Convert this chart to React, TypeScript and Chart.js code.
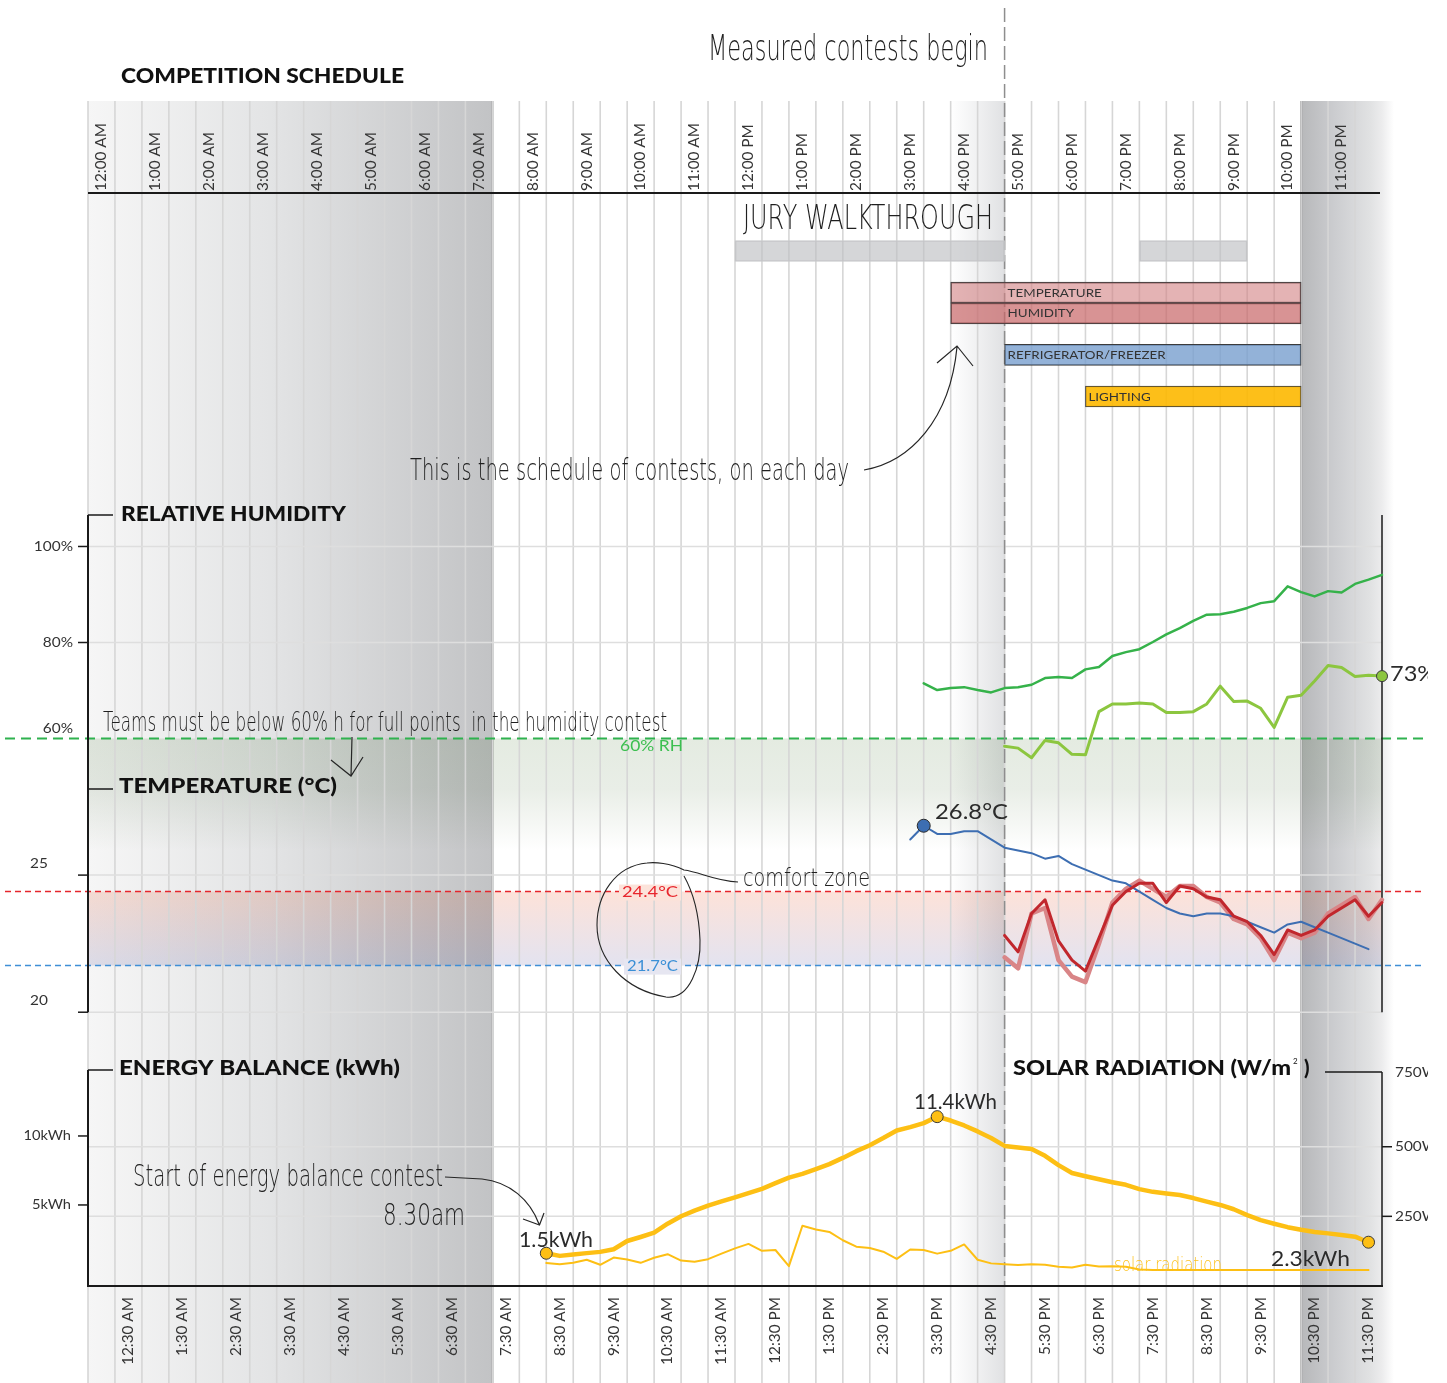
import React, { useEffect, useRef } from 'react';
import { Chart, registerables } from 'chart.js';

Chart.register(...registerables);

const CANVAS_W = 1447;
const CANVAS_H = 1383;
const CLIP_RIGHT = 1428;

// ---------------- tick labels ----------------
const hourLabels = ['12:00 AM', '1:00 AM', '2:00 AM', '3:00 AM', '4:00 AM', '5:00 AM', '6:00 AM', '7:00 AM', '8:00 AM', '9:00 AM', '10:00 AM', '11:00 AM', '12:00 PM', '1:00 PM', '2:00 PM', '3:00 PM', '4:00 PM', '5:00 PM', '6:00 PM', '7:00 PM', '8:00 PM', '9:00 PM', '10:00 PM', '11:00 PM'];
const halfHourLabels = ['12:30 AM', '1:30 AM', '2:30 AM', '3:30 AM', '4:30 AM', '5:30 AM', '6:30 AM', '7:30 AM', '8:30 AM', '9:30 AM', '10:30 AM', '11:30 AM', '12:30 PM', '1:30 PM', '2:30 PM', '3:30 PM', '4:30 PM', '5:30 PM', '6:30 PM', '7:30 PM', '8:30 PM', '9:30 PM', '10:30 PM', '11:30 PM'];
const humidityTicks = [100, 80, 60];
const temperatureTicks = [25, 20];
const energyTicks = [10, 5];
const solarTicks = [500, 250];
const solarTopLabel = '750W/m²';

// ---------------- competition schedule ----------------
const scheduleNames = ['JURY WALKTHROUGH', 'JURY WALKTHROUGH', 'TEMPERATURE', 'HUMIDITY', 'REFRIGERATOR/FREEZER', 'LIGHTING'];
const scheduleShowName = [false, false, true, true, true, true];
const scheduleRows = [0, 0, 2, 3, 5, 7];
const scheduleStart = [12, 19.5, 16, 16, 17, 18.5];
const scheduleEnd = [17, 21.5, 22.5, 22.5, 22.5, 22.5];

// ---------------- reference values (hours / units) ----------------
const nightEnd = 7.5;
const nightStart = 22.5;
const contestStart = 17;
const preContestFadeStart = 16;
const humidityLimit = 60;
const comfortHigh = 24.4;
const comfortLow = 21.7;

// ---------------- measured series, 15-minute samples ----------------
const SAMPLE_HOURS = 0.25;

const humidityOutdoorStart = 15.5;
const humidityOutdoor = [71.5, 70.1, 70.5, 70.7, 70.1, 69.6, 70.5, 70.7, 71.2, 72.6, 72.8, 72.6, 74.4, 74.9, 77.2, 78.0, 78.6, 80.1, 81.7, 83.0, 84.5, 85.8, 85.9, 86.4, 87.2, 88.2, 88.6, 91.7, 90.5, 89.6, 90.7, 90.4, 92.2, 93.1, 94.1];

const humidityIndoorStart = 17;
const humidityIndoor = [58.4, 58.0, 56.0, 59.6, 59.1, 56.7, 56.6, 65.6, 67.2, 67.2, 67.4, 67.2, 65.4, 65.4, 65.6, 67.2, 70.9, 67.7, 67.8, 66.3, 62.3, 68.6, 69.0, 72.0, 75.2, 74.8, 72.9, 73.2, 73.0];
const humidityIndoorMarkers = [28];

const tempOutdoorStart = 15.25;
const tempOutdoor = [26.3, 26.8, 26.5, 26.5, 26.6, 26.6, 26.3, 26.0, 25.9, 25.8, 25.6, 25.7, 25.4, 25.2, 25.0, 24.8, 24.7, 24.4, 24.1, 23.8, 23.6, 23.5, 23.6, 23.6, 23.5, 23.3, 23.1, 22.9, 23.2, 23.3, 23.1, 22.9, 22.7, 22.5, 22.3];
const tempOutdoorMarkers = [1];

const tempIndoorStart = 17;
const tempIndoorA = [22.8, 22.2, 23.6, 24.1, 22.6, 21.9, 21.5, 22.7, 23.9, 24.4, 24.7, 24.7, 24.0, 24.6, 24.5, 24.2, 24.1, 23.5, 23.3, 22.8, 22.1, 23.0, 22.8, 23.0, 23.5, 23.8, 24.1, 23.5, 24.0];
const tempIndoorB = [22.0, 21.6, 23.6, 23.8, 21.9, 21.3, 21.1, 22.5, 24.0, 24.5, 24.8, 24.5, 24.2, 24.6, 24.6, 24.2, 24.0, 23.4, 23.2, 22.7, 21.9, 22.9, 22.7, 22.9, 23.6, 23.9, 24.2, 23.4, 24.1];

const energyStart = 8.5;
const energyBalance = [1.5, 1.31, 1.41, 1.51, 1.6, 1.79, 2.39, 2.68, 2.99, 3.64, 4.18, 4.59, 4.95, 5.26, 5.55, 5.86, 6.17, 6.58, 6.98, 7.25, 7.6, 7.96, 8.41, 8.9, 9.33, 9.85, 10.4, 10.64, 10.93, 11.4, 11.12, 10.76, 10.33, 9.85, 9.28, 9.16, 9.06, 8.56, 7.89, 7.32, 7.08, 6.86, 6.65, 6.46, 6.15, 5.95, 5.83, 5.72, 5.5, 5.24, 5.0, 4.69, 4.26, 3.9, 3.64, 3.39, 3.2, 3.04, 2.94, 2.82, 2.7, 2.3];
const energyMarkers = [0, 29, 61];

const solarStart = 8.5;
const solarRadiation = [82, 78, 83, 94, 76, 102, 95, 83, 101, 114, 91, 87, 96, 116, 135, 151, 126, 129, 71, 216, 203, 194, 164, 141, 136, 123, 97, 131, 129, 116, 126, 149, 94, 81, 78, 75, 78, 76, 69, 66, 76, 70, 71, 69, 59, 57, 57, 57, 57, 57, 57, 57, 57, 57, 57, 57, 57, 57, 57, 57, 57, 57];

// ---------------- layout (pixels) ----------------
const PLOT_LEFT = 88;
const PLOT_RIGHT = 1382;
const SHADE_TOP = 101;
const HEADER_LINE_Y = 193;
const HUM_PANEL_TOP = 515;
const TEMP_PANEL_TOP = 789;
const ENERGY_PANEL_TOP = 1070;
const SOLAR_BRACKET_Y = 1072;
// value/pixel anchor pairs used to place each vertical scale
const HUM_ANCHORS: [number, number, number, number] = [100, 545, 60, 739];
const TEMP_ANCHORS: [number, number, number, number] = [24.4, 893.6, 21.7, 968.4];
const ENERGY_ANCHORS: [number, number, number, number] = [11.4, 1121, 1.5, 1259];
const SOLAR_ANCHORS: [number, number, number, number] = [500, 1151.4, 0, 1292];
const SCHED_ANCHORS: [number, number, number, number] = [0, 246.5, 7, 393.5];

function linearRange(v1: number, p1: number, v2: number, p2: number) {
  const k = (p2 - p1) / (v1 - v2);
  const A = p1 + k * v1;
  return { min: (A - CANVAS_H) / k, max: A / k };
}
function reversedRange(v1: number, p1: number, v2: number, p2: number) {
  const k = (p2 - p1) / (v2 - v1);
  const min = v1 - p1 / k;
  return { min, max: min + CANVAS_H / k };
}

const toPoints = (start: number, values: number[]) => values.map((y, i) => ({ x: start + i * SAMPLE_HOURS, y }));

// ---------------- fonts & colors ----------------
const TITLE = (s: number) => `900 ${s}px Lato`;
const SANS = (s: number) => `${s}px Lato`;
const HAND = (s: number) => `200 ${s}px "DejaVu Sans"`;
const INK = '#1f1f1f';
const YELLOW = '#fdbf14';

type TextOpts = {
  font: string;
  color: string;
  align?: 'left' | 'right' | 'center';
  baseline?: CanvasTextBaseline;
  width?: number;
  sx?: number;
  rotate?: number;
  bg?: string;
};

function drawText(ctx: CanvasRenderingContext2D, str: string, x: number, y: number, o: TextOpts) {
  ctx.save();
  ctx.font = o.font;
  ctx.textBaseline = o.baseline || 'middle';
  ctx.textAlign = 'left';
  const natural = ctx.measureText(str).width;
  const sx = o.width ? o.width / natural : (o.sx || 1);
  const w = natural * sx;
  ctx.translate(x, y);
  if (o.rotate) ctx.rotate(o.rotate);
  const dx = o.align === 'right' ? -w : o.align === 'center' ? -w / 2 : 0;
  ctx.translate(dx, 0);
  if (o.bg) {
    ctx.fillStyle = o.bg;
    ctx.fillRect(-3, -8, w + 6, 16);
  }
  ctx.scale(sx, 1);
  ctx.fillStyle = o.color;
  ctx.fillText(str, 0, 0);
  ctx.restore();
}

function fitScale(ctx: CanvasRenderingContext2D, font: string, sample: string, width: number) {
  ctx.save();
  ctx.font = font;
  const w = ctx.measureText(sample).width;
  ctx.restore();
  return width / w;
}

function seg(ctx: CanvasRenderingContext2D, x1: number, y1: number, x2: number, y2: number, color: string, width: number, dash: number[] = []) {
  ctx.save();
  ctx.beginPath();
  ctx.strokeStyle = color;
  ctx.lineWidth = width;
  ctx.setLineDash(dash);
  ctx.moveTo(x1, y1);
  ctx.lineTo(x2, y2);
  ctx.stroke();
  ctx.restore();
}

function scalesOf(chart: any) {
  const s = chart.scales;
  return {
    X: (v: number) => s.x.getPixelForValue(v),
    yHum: (v: number) => s.yHum.getPixelForValue(v),
    yTemp: (v: number) => s.yTemp.getPixelForValue(v),
    yEnergy: (v: number) => s.yEnergy.getPixelForValue(v),
    ySolar: (v: number) => s.ySolar.getPixelForValue(v),
  };
}

function drawBackdrop(chart: any) {
  const ctx: CanvasRenderingContext2D = chart.ctx;
  const { X, yHum, yTemp, yEnergy, ySolar } = scalesOf(chart);
  const x0 = X(0);
  const x24 = X(24);
  const bottomY = ySolar(0);

  ctx.save();
  ctx.beginPath();
  ctx.rect(0, 0, CLIP_RIGHT, CANVAS_H);
  ctx.clip();

  // night before the day's activities
  const xNightEnd = X(nightEnd);
  let g = ctx.createLinearGradient(x0, 0, xNightEnd, 0);
  g.addColorStop(0, '#f6f6f6');
  g.addColorStop(0.45, '#e3e4e5');
  g.addColorStop(1, '#c2c3c5');
  ctx.fillStyle = g;
  ctx.fillRect(x0, SHADE_TOP, xNightEnd - x0, CANVAS_H - SHADE_TOP);

  // fade before the measured contests
  const xf0 = X(preContestFadeStart);
  const xf1 = X(contestStart);
  g = ctx.createLinearGradient(xf0, 0, xf1, 0);
  g.addColorStop(0, 'rgba(226,227,229,0)');
  g.addColorStop(1, 'rgba(224,225,227,1)');
  ctx.fillStyle = g;
  ctx.fillRect(xf0, SHADE_TOP, xf1 - xf0, CANVAS_H - SHADE_TOP);

  // night at the end of the day
  const xr0 = X(nightStart);
  g = ctx.createLinearGradient(xr0, 0, x24 + 12, 0);
  g.addColorStop(0, '#b7b8ba');
  g.addColorStop(0.35, '#cbcccf');
  g.addColorStop(0.75, '#e1e2e3');
  g.addColorStop(0.87, '#ececed');
  g.addColorStop(1, '#ffffff');
  ctx.fillStyle = g;
  ctx.fillRect(xr0, SHADE_TOP, x24 + 12 - xr0, CANVAS_H - SHADE_TOP);

  seg(ctx, xNightEnd, SHADE_TOP, xNightEnd, CANVAS_H, '#8b8c8e', 2);
  seg(ctx, xr0, SHADE_TOP, xr0, CANVAS_H, '#7e7f81', 2);

  // bands
  ctx.save();
  ctx.globalCompositeOperation = 'multiply';
  const yG = yHum(humidityLimit);
  g = ctx.createLinearGradient(0, yG, 0, yG + 112);
  g.addColorStop(0, '#e4ebe1');
  g.addColorStop(0.45, '#e9eee7');
  g.addColorStop(0.75, '#f5f7f4');
  g.addColorStop(1, '#ffffff');
  ctx.fillStyle = g;
  ctx.fillRect(x0, yG, x24 - x0, 112);
  const yC1 = yTemp(comfortHigh);
  const yC2 = yTemp(comfortLow);
  g = ctx.createLinearGradient(0, yC1, 0, yC2);
  g.addColorStop(0, '#fde2d9');
  g.addColorStop(1, '#e3e3f0');
  ctx.fillStyle = g;
  ctx.fillRect(x0, yC1, x24 - x0, yC2 - yC1);
  ctx.restore();

  // vertical half-hour grid
  ctx.save();
  ctx.strokeStyle = '#d6d6d6';
  ctx.lineWidth = 1.6;
  ctx.beginPath();
  for (let k = 0; k < 48; k++) {
    const x = X(k / 2);
    ctx.moveTo(x, SHADE_TOP);
    ctx.lineTo(x, CANVAS_H);
  }
  ctx.stroke();
  ctx.restore();

  // horizontal grid
  const hgrid = (y: number) => seg(ctx, x0, y, x24, y, '#dedede', 1.5);
  [100, 80].forEach((v) => hgrid(yHum(v)));
  temperatureTicks.forEach((v) => hgrid(yTemp(v)));
  solarTicks.forEach((v) => hgrid(ySolar(v)));

  // reference dashed lines
  seg(ctx, 5, yG, 1425, yG, '#2fb24f', 2, [10, 6]);
  seg(ctx, 5, yC1, 1425, yC1, '#e5262c', 1.5, [6, 4]);
  seg(ctx, 5, yC2, 1425, yC2, '#3f8fd6', 1.5, [6, 4]);
  seg(ctx, xf1, 8, xf1, bottomY, '#8e8e8e', 1.5, [14, 5]);

  // axes & brackets
  const AX = '#1a1a1a';
  seg(ctx, x0, HEADER_LINE_Y, x24 - 2, HEADER_LINE_Y, AX, 2);
  seg(ctx, x0 - 1, bottomY, x24 + 1, bottomY, AX, 2);
  const yT20 = yTemp(20);
  seg(ctx, x0, HUM_PANEL_TOP, x0, yT20, AX, 2);
  seg(ctx, x0, HUM_PANEL_TOP, x0 + 25, HUM_PANEL_TOP, AX, 1.5);
  seg(ctx, x0, TEMP_PANEL_TOP, x0 + 25, TEMP_PANEL_TOP, AX, 1.5);
  seg(ctx, x24, HUM_PANEL_TOP, x24, yT20, AX, 1.5);
  [100, 80].forEach((v) => seg(ctx, x0 - 10, yHum(v), x0, yHum(v), AX, 1.5));
  temperatureTicks.forEach((v) => seg(ctx, x0 - 10, yTemp(v), x0, yTemp(v), AX, 1.5));
  seg(ctx, x0, ENERGY_PANEL_TOP, x0, bottomY, AX, 2);
  seg(ctx, x0, ENERGY_PANEL_TOP, x0 + 25, ENERGY_PANEL_TOP, AX, 1.5);
  energyTicks.forEach((v) => seg(ctx, x0 - 10, yEnergy(v), x0, yEnergy(v), AX, 1.5));
  seg(ctx, 1325, SOLAR_BRACKET_Y, x24, SOLAR_BRACKET_Y, AX, 1.5);
  seg(ctx, x24, SOLAR_BRACKET_Y, x24, bottomY, AX, 1.5);
  solarTicks.forEach((v) => seg(ctx, x24, ySolar(v), x24 + 10, ySolar(v), AX, 1.5));

  // tick labels
  const TK = '#333333';
  humidityTicks.forEach((v) => {
    const y = v === humidityLimit ? yHum(v) - 10 : yHum(v);
    drawText(ctx, `${v}%`, 73, y, { font: SANS(14), color: TK, align: 'right', sx: 1.1 });
  });
  temperatureTicks.forEach((v) => drawText(ctx, `${v}`, 39, yTemp(v) - 12, { font: SANS(14), color: TK, align: 'center', sx: 1.1 }));
  energyTicks.forEach((v) => drawText(ctx, `${v}kWh`, 71, yEnergy(v), { font: SANS(14), color: TK, align: 'right', sx: 1.05 }));
  drawText(ctx, solarTopLabel, x24 + 13, SOLAR_BRACKET_Y, { font: SANS(14), color: TK, sx: 1.1 });
  solarTicks.forEach((v) => drawText(ctx, `${v}W/m²`, x24 + 13, ySolar(v), { font: SANS(14), color: TK, sx: 1.1 }));

  // header time labels
  const hsx = fitScale(ctx, SANS(15), '12:00 AM', 68);
  hourLabels.forEach((lab, h) => drawText(ctx, lab, X(h + 0.25), 191, { font: SANS(15), color: '#353535', rotate: -Math.PI / 2, sx: hsx }));
  halfHourLabels.forEach((lab, i) => drawText(ctx, lab, X(i + 0.75), 1297, { font: SANS(15), color: '#353535', rotate: -Math.PI / 2, align: 'right', sx: hsx }));

  // titles
  drawText(ctx, 'COMPETITION SCHEDULE', 121, 76, { font: TITLE(21), color: '#111', width: 283 });
  drawText(ctx, 'RELATIVE HUMIDITY', 121, HUM_PANEL_TOP, { font: TITLE(20), color: '#111', width: 225 });
  drawText(ctx, 'TEMPERATURE (°C)', 119, TEMP_PANEL_TOP - 2, { font: TITLE(20), color: '#111', width: 218 });
  drawText(ctx, 'ENERGY BALANCE (kWh)', 119, ENERGY_PANEL_TOP - 1, { font: TITLE(20), color: '#111', width: 281 });
  drawText(ctx, 'SOLAR RADIATION (W/m', 1013, ENERGY_PANEL_TOP - 1, { font: TITLE(20), color: '#111', width: 278 });
  drawText(ctx, '2', 1293, ENERGY_PANEL_TOP - 9, { font: SANS(8), color: '#111' });
  drawText(ctx, ')', 1304, ENERGY_PANEL_TOP - 1, { font: TITLE(20), color: '#111' });

  // reference labels
  drawText(ctx, '60% RH', 620, yG + 8, { font: SANS(15), color: '#3cbf50', width: 63 });
  drawText(ctx, '24.4°C', 622, yC1 + 1, { font: SANS(15), color: '#e8262d', width: 56, bg: '#fce3da' });
  drawText(ctx, '21.7°C', 627, yC2 + 1, { font: SANS(15), color: '#3a8fd6', width: 51, bg: '#e6e6f1' });

  ctx.restore();
}

function drawOverlay(chart: any) {
  const ctx: CanvasRenderingContext2D = chart.ctx;
  const { X } = scalesOf(chart);
  ctx.save();
  ctx.beginPath();
  ctx.rect(0, 0, CLIP_RIGHT, CANVAS_H);
  ctx.clip();

  // schedule bar labels
  const schedIndex = chart.data.datasets.findIndex((d: any) => d.label === 'Competition schedule');
  const bars = chart.getDatasetMeta(schedIndex).data;
  const bsx = fitScale(ctx, SANS(11), 'REFRIGERATOR/FREEZER', 158);
  bars.forEach((el: any, i: number) => {
    if (!scheduleShowName[i]) return;
    const x = Math.max(X(scheduleStart[i]), X(contestStart)) + 3;
    drawText(ctx, scheduleNames[i], x, el.y + 0.5, { font: SANS(11), color: '#333', sx: bsx });
  });

  // value call-outs
  const V = '#2b2b2b';
  drawText(ctx, '26.8°C', 935, 812, { font: SANS(21), color: V, width: 73 });
  drawText(ctx, '73%', 1390, 674, { font: SANS(21), color: V, sx: 1.12 });
  drawText(ctx, '11.4kWh', 914, 1102, { font: SANS(21), color: V, width: 83 });
  drawText(ctx, '1.5kWh', 519, 1240, { font: SANS(21), color: V, width: 74 });
  drawText(ctx, '2.3kWh', 1271, 1259, { font: SANS(21), color: V, width: 79 });

  // handwritten notes
  const hb = 'alphabetic' as CanvasTextBaseline;
  drawText(ctx, 'Measured contests begin', 708, 60, { font: HAND(36), color: INK, width: 280, baseline: hb });
  drawText(ctx, 'JURY WALKTHROUGH', 743, 229, { font: HAND(34), color: INK, width: 250, baseline: hb });
  drawText(ctx, 'This is the schedule of contests, on each day', 410, 480, { font: HAND(30), color: INK, width: 439, baseline: hb });
  drawText(ctx, 'Teams must be below 60% h for full points  in the humidity contest', 103, 731, { font: HAND(27), color: INK, width: 564, baseline: hb });
  drawText(ctx, 'comfort zone', 743, 886, { font: HAND(24), color: INK, width: 127, baseline: hb });
  drawText(ctx, 'Start of energy balance contest', 133, 1186, { font: HAND(30), color: INK, width: 310, baseline: hb });
  drawText(ctx, '8.30am', 383, 1225, { font: HAND(30), color: INK, width: 82, baseline: hb });
  drawText(ctx, 'solar radiation', 1114, 1271, { font: HAND(19), color: '#fdc21f', width: 108, baseline: hb });

  // arrows and the comfort-zone loop
  ctx.strokeStyle = '#262626';
  ctx.lineWidth = 1.2;
  ctx.setLineDash([]);
  ctx.beginPath();
  ctx.moveTo(864, 470);
  ctx.bezierCurveTo(910, 462, 950, 420, 957, 347);
  ctx.moveTo(937, 363);
  ctx.lineTo(957, 346);
  ctx.lineTo(973, 366);
  ctx.stroke();

  ctx.beginPath();
  ctx.moveTo(352, 737);
  ctx.lineTo(351, 776);
  ctx.moveTo(331, 760);
  ctx.lineTo(351, 776);
  ctx.lineTo(363, 757);
  ctx.stroke();

  ctx.beginPath();
  ctx.moveTo(445, 1177);
  ctx.lineTo(482, 1179);
  ctx.bezierCurveTo(510, 1182, 530, 1200, 539, 1224);
  ctx.moveTo(523, 1219);
  ctx.lineTo(539.5, 1225);
  ctx.lineTo(544, 1213);
  ctx.stroke();

  ctx.lineWidth = 1.1;
  ctx.beginPath();
  ctx.moveTo(738, 882);
  ctx.bezierCurveTo(715, 881, 700, 872, 684, 870);
  ctx.bezierCurveTo(670, 863, 655, 862, 647, 863);
  ctx.bezierCurveTo(615, 866, 597, 895, 597, 925);
  ctx.bezierCurveTo(597, 960, 625, 990, 666, 997);
  ctx.bezierCurveTo(690, 1000, 701, 965, 700, 940);
  ctx.bezierCurveTo(699, 915, 693, 892, 684, 876);
  ctx.stroke();

  ctx.restore();
}

const infographicPlugin = {
  id: 'infographic',
  beforeDraw(chart: any) {
    const ctx = chart.ctx;
    ctx.save();
    ctx.fillStyle = '#ffffff';
    ctx.fillRect(0, 0, CANVAS_W, CANVAS_H);
    ctx.restore();
  },
  beforeDatasetsDraw(chart: any) {
    drawBackdrop(chart);
  },
  afterDatasetsDraw(chart: any) {
    drawOverlay(chart);
  },
};

const markerRadius = (indices: number[], r: number) => (c: any) => (indices.includes(c.dataIndex) ? r : 0);

function buildConfig(): any {
  const hum = linearRange(...HUM_ANCHORS);
  const temp = linearRange(...TEMP_ANCHORS);
  const energy = linearRange(...ENERGY_ANCHORS);
  const solar = linearRange(...SOLAR_ANCHORS);
  const sched = reversedRange(...SCHED_ANCHORS);
  const hidden = (min: number, max: number, extra: any = {}) => ({ type: 'linear', axis: 'y', min, max, bounds: 'data', display: false, grid: { display: false }, ...extra });

  const line = (label: string, data: any[], yAxisID: string, color: string, width: number, order: number, extra: any = {}) => ({
    type: 'line',
    label,
    data,
    yAxisID,
    xAxisID: 'x',
    borderColor: color,
    backgroundColor: color,
    borderWidth: width,
    tension: 0,
    fill: false,
    pointRadius: 0,
    pointHoverRadius: 0,
    borderJoinStyle: 'round',
    borderCapStyle: 'round',
    clip: false,
    order,
    ...extra,
  });

  return {
    type: 'line',
    data: {
      datasets: [
        line('Energy balance (kWh)', toPoints(energyStart, energyBalance), 'yEnergy', YELLOW, 4.5, 1, {
          pointRadius: markerRadius(energyMarkers, 6),
          pointBackgroundColor: YELLOW,
          pointBorderColor: '#3a3a3a',
          pointBorderWidth: 1,
        }),
        line('Solar radiation (W/m²)', toPoints(solarStart, solarRadiation), 'ySolar', YELLOW, 2, 2),
        line('Indoor humidity (%)', toPoints(humidityIndoorStart, humidityIndoor), 'yHum', '#8cc63f', 3, 1, {
          pointRadius: markerRadius(humidityIndoorMarkers, 5.5),
          pointBackgroundColor: '#8cc63f',
          pointBorderColor: '#3a3a3a',
          pointBorderWidth: 1,
        }),
        line('Outdoor humidity (%)', toPoints(humidityOutdoorStart, humidityOutdoor), 'yHum', '#35b24a', 2.5, 2),
        line('Indoor temperature A (°C)', toPoints(tempIndoorStart, tempIndoorA), 'yTemp', '#c1272d', 3, 1),
        line('Indoor temperature B (°C)', toPoints(tempIndoorStart, tempIndoorB), 'yTemp', '#d98587', 4.5, 3),
        line('Outdoor temperature (°C)', toPoints(tempOutdoorStart, tempOutdoor), 'yTemp', '#3d6eb2', 2, 2, {
          pointRadius: markerRadius(tempOutdoorMarkers, 6.5),
          pointBackgroundColor: '#3d6eb2',
          pointBorderColor: '#2a2a2a',
          pointBorderWidth: 1,
        }),
        {
          type: 'bar',
          label: 'Competition schedule',
          indexAxis: 'y',
          xAxisID: 'x',
          yAxisID: 'ySched',
          data: scheduleRows.map((r, i) => ({ x: [scheduleStart[i], scheduleEnd[i]], y: r })),
          backgroundColor: ['rgba(190,192,195,0.65)', 'rgba(190,192,195,0.65)', 'rgba(210,128,130,0.6)', 'rgba(199,101,102,0.7)', 'rgba(120,159,206,0.8)', 'rgba(253,184,0,0.9)'],
          borderColor: ['#c7c8ca', '#c7c8ca', '#3b3b3b', '#3b3b3b', '#3b3b3b', '#3b3b3b'],
          borderWidth: 1,
          borderSkipped: false,
          barThickness: 21,
          order: 10,
        },
      ],
    },
    options: {
      animation: false,
      responsive: false,
      devicePixelRatio: 1,
      events: [],
      layout: { padding: { left: PLOT_LEFT, right: CANVAS_W - PLOT_RIGHT, top: 0, bottom: 0 } },
      plugins: { legend: { display: false }, tooltip: { enabled: false }, title: { display: false } },
      scales: {
        x: { type: 'linear', axis: 'x', min: 0, max: 24, bounds: 'data', display: false, grid: { display: false } },
        ySched: hidden(sched.min, sched.max, { reverse: true, offset: false }),
        yHum: hidden(hum.min, hum.max),
        yTemp: hidden(temp.min, temp.max),
        yEnergy: hidden(energy.min, energy.max),
        ySolar: hidden(solar.min, solar.max),
      },
    },
    plugins: [infographicPlugin],
  };
}

export default function App() {
  const ref = useRef<HTMLCanvasElement>(null);
  useEffect(() => {
    const canvas = ref.current;
    if (!canvas) return;
    const chart = new Chart(canvas, buildConfig());
    return () => chart.destroy();
  }, []);
  return (
    <div style={{ position: 'absolute', left: 0, top: 0, width: CANVAS_W, height: CANVAS_H, background: '#fff', overflow: 'hidden' }}>
      <canvas ref={ref} width={CANVAS_W} height={CANVAS_H} style={{ display: 'block', width: CANVAS_W, height: CANVAS_H }} />
    </div>
  );
}
